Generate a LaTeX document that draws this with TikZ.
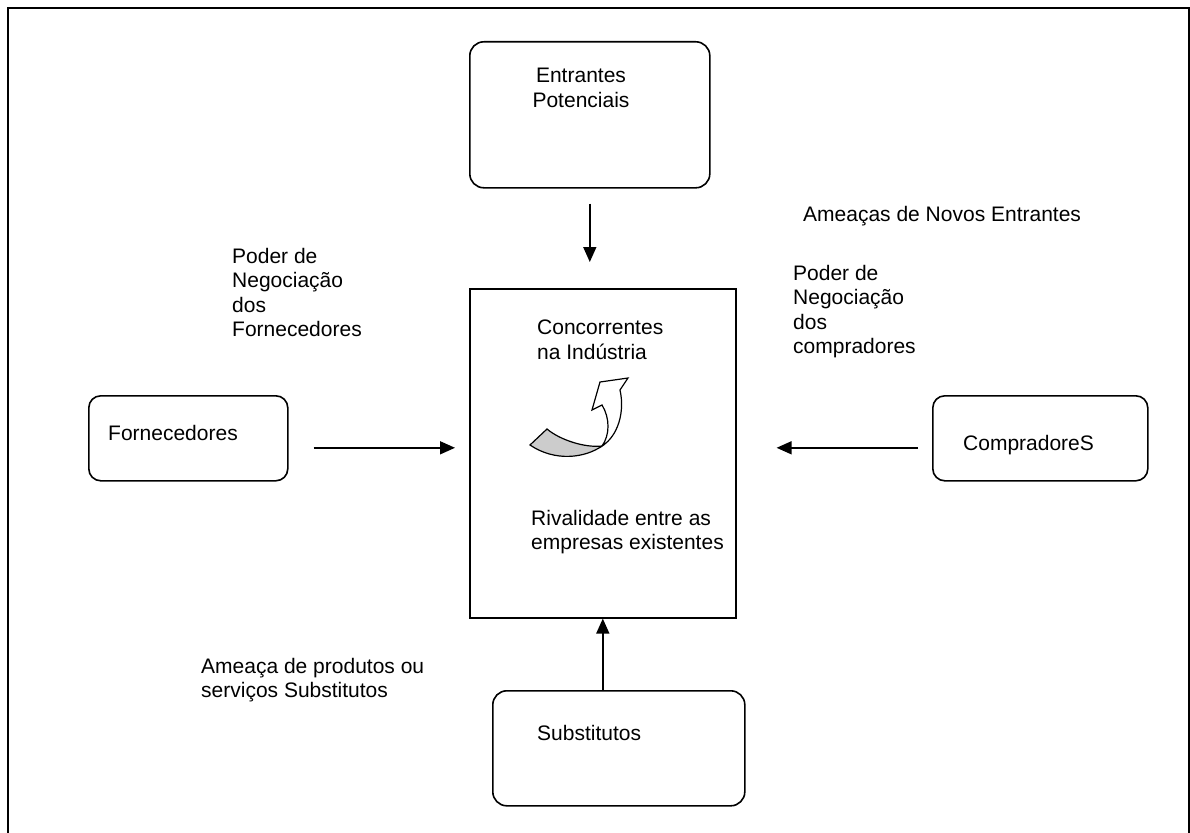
\documentclass[tikz,border=0pt]{standalone}
\usepackage{fontspec}
\setmainfont{Liberation Sans}
\usetikzlibrary{arrows.meta,shapes}

\begin{document}
\begin{tikzpicture}[x=1pt,y=-1pt]
				\tikzstyle{arrow}=[draw, line width=1.6pt, -{Triangle[length=15pt,width=13pt]}]
				\tikzstyle{force}=[draw, line width=1.6pt, rounded corners=14pt, anchor=north west, inner sep=0pt]
				\tikzstyle{txt}=[anchor=north west, align=left, inner sep=0pt, font=\fontsize{21}{24.5}\selectfont]
				\newcommand\YArr{-9.5pt}

				\useasboundingbox (0,0) rectangle (1190,832);
				% Frame
				\draw [line width=2.6pt] (8,860) -- (8,8) -- (1189,8) -- (1189,860);

				% Forces
				\node [force, minimum width=240, minimum height=146] at (469,41) (entr) {};
				\node [force, minimum width=266, minimum height=329, rounded corners=0pt] at (469,288) (conc) {};
				\node [force, minimum width=199, minimum height=85, rounded corners=12pt] at (88,395) (forn) {};
				\node [force, minimum width=215, minimum height=85, rounded corners=12pt] at (932,395) (comp) {};
				\node [force, minimum width=252, minimum height=115] at (492,690) (subs) {};

				% Texts
				\node [txt, anchor=north, align=center] at (581,68) (entrtxt) {Entrantes\\Potenciais};
				\node [txt] at (537,320) (conctxt) {Concorrentes\\na Indústria};
				\node [txt] at (531,510) (rivtxt) {Rivalidade entre as\\empresas existentes};
				\node [txt] at (108,425) (forntxt) {Fornecedores};
				\node [txt] at (963,435) (comptxt) {CompradoreS};
				\node [txt] at (537,725) (substxt) {Substitutos};
				\node [txt] at (803,206) (novos) {Ameaças de Novos Entrantes};
				\node [txt] at (232,248) (podf) {Poder de\\Negociação\\dos\\Fornecedores};
				\node [txt] at (793,265) (podc) {Poder de\\Negociação\\dos\\compradores};
				\node [txt] at (201,658) (ameaca) {Ameaça de produtos ou\\serviços Substitutos};

				% Rivalry arrow
				\filldraw [fill=gray!40, line width=1.2pt] (530,445) -- (547,429) .. controls (560,440) and (585,448) .. (602,446) .. controls (585,458) and (555,462) .. (530,445) -- cycle;
				\filldraw [fill=white, line width=1.2pt] (602,446) .. controls (610,435) and (610,418) .. (602,405) -- (592,410) -- (600,382) -- (628,378) -- (620,390) .. controls (625,412) and (618,436) .. (602,446) -- cycle;

				% Path Arrows
				\path [arrow, shorten <=15pt, shorten >=26pt] (entr.south) -- (entr.south |- conc.north);
				\path [arrow] (conc.south |- subs.north) -- (conc.south);
				\path [arrow, shorten <=25pt, shorten >=14pt] ([yshift=\YArr]forn.east) -- ([yshift=\YArr]forn.east -| conc.west);
				\path [arrow, shorten <=14pt, shorten >=40pt] ([yshift=\YArr]comp.west) -- ([yshift=\YArr]comp.west -| conc.east);

			\end{tikzpicture}
\end{document}
